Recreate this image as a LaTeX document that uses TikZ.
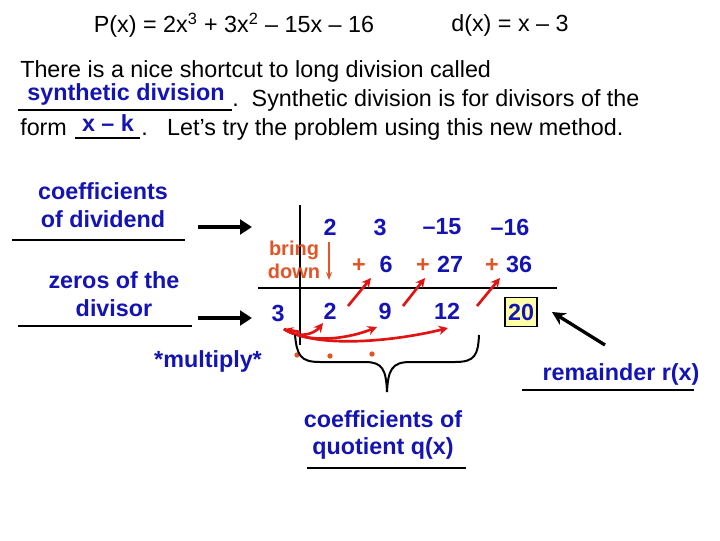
\documentclass[tikz,border=0pt]{standalone}
\usepackage{fontspec}
\setmainfont{Liberation Sans}
\usetikzlibrary{arrows.meta}
\definecolor{dblue}{RGB}{20,20,180}
\definecolor{oran}{RGB}{225,85,40}
\definecolor{rred}{RGB}{225,20,20}
\definecolor{yel}{RGB}{255,255,170}
\begin{document}
\begin{tikzpicture}[x=0.75pt,y=-0.75pt,
  txt/.style={font=\fontsize{17.5}{20}\selectfont,inner sep=0pt},
  lab/.style={font=\bfseries\fontsize{17.5}{20.5}\selectfont,text=dblue,inner sep=0pt,align=center},
  num/.style={font=\bfseries\fontsize{17.5}{20}\selectfont,text=dblue,inner sep=0pt},
  plus/.style={font=\bfseries\fontsize{17.5}{20}\selectfont,text=oran,inner sep=0pt},
  uline/.style={line width=1pt},
  bigarr/.style={line width=3pt,-{Triangle[length=9pt,width=11pt]}},
  redarr/.style={rred,line width=2pt,-{Stealth[length=7pt,width=7pt]}},
  dot/.style={circle,fill=oran,inner sep=0pt,minimum size=4pt}]
\useasboundingbox (0,0) rectangle (720,540);
\node[txt] (p) at (234,25) {P(x) = 2x\textsuperscript{3} + 3x\textsuperscript{2} – 15x – 16};
\node[txt] (d) at (510,25) {d(x) = x – 3};
\node[txt,anchor=base west] (l1) at (20,77) {There is a nice shortcut to long division called};
\node[txt,anchor=base west] (l2) at (232,106) {.\ \ Synthetic division is for divisors of the};
\node[txt,anchor=base west] (l3) at (20,135) {form};
\node[txt,anchor=base west] (l3b) at (141,135) {.\ \ \ Let’s try the problem using this new method.};
\node[lab,anchor=base] (sd) at (126,100) {synthetic division};
\node[lab,anchor=base] (xk) at (108,131) {x – k};
\draw[uline] (18,110) -- (232,110);
\draw[uline] (75,138) -- (140,138);

\node[lab] (cd) at (103,205) {coefficients\\of dividend};
\draw[uline] (12,240) -- (185,240);
\node[lab] (zd) at (114,294) {zeros of the\\divisor};
\draw[uline] (18,326) -- (192,326);
\coordinate (a1) at (198,227); \coordinate (a2) at (198,318);
\coordinate (a1e) at (252,227); \coordinate (a2e) at (252,318);
\draw[bigarr] (a1) -- (a1e);
\draw[bigarr] (a2) -- (a2e);
\node[num] (m) at (208,361) {*multiply*};

\draw[line width=1.5pt] (300,205) -- (300,345);
\draw[line width=1.5pt] (258,288) -- (557,288);

\node[num] (c1) at (330,227) {2};
\node[num] (c2) at (380,227) {3};
\node[num] (c3) at (442,227) {–15};
\node[num] (c4) at (510,227) {–16};

\node[font=\bfseries\fontsize{15}{17.5}\selectfont,text=oran,align=center,inner sep=0pt] (bd) at (294,260) {bring\\down};
\coordinate (bdt) at (329,280);
\draw[oran,line width=1.5pt,-{Stealth[length=6pt]}] (329,242) -- (bdt);

\node[plus] (p1) at (359,266) {+}; \node[num] (s1) at (386,264) {6};
\node[plus] (p2) at (423,266) {+}; \node[num] (s2) at (450,264) {27};
\node[plus] (p3) at (492,266) {+}; \node[num] (s3) at (519,264) {36};

\node[num] (k) at (278,313) {3};
\node[num] (b1) at (330,311) {2};
\node[num] (b2) at (385,311) {9};
\node[num] (b3) at (447,311) {12};
\node[num,draw=black,fill=yel,line width=1pt,minimum width=24pt,minimum height=22pt] (r) at (521,312) {20};

\coordinate (t1) at (371,278); \coordinate (t2) at (425,278); \coordinate (t3) at (500,278);
\draw[redarr] (348,306) -- (t1);
\draw[redarr] (403,306) -- (t2);
\draw[redarr] (477,306) -- (t3);

\coordinate (o) at (284,329);
\draw[redarr] (o) .. controls (300,340) and (315,333) .. (323,323);
\draw[redarr] (o) .. controls (310,345) and (350,338) .. (377,327);
\draw[redarr] (o) .. controls (320,350) and (400,340) .. (448,328);
\draw[rred,line width=2pt,-{Stealth[length=7pt]}] (300,332) -- (o);

\node[dot] (d1) at (297,355) {};
\node[dot] (d2) at (330,356) {};
\node[dot] (d3) at (372,354) {};

\draw[line width=1.5pt] (295,335) .. controls (297,355) and (300,362) .. (320,362) -- (365,362)
  .. controls (383,362) and (386,370) .. (387,392);
\draw[line width=1.5pt] (479,335) .. controls (478,355) and (475,362) .. (455,362) -- (410,362)
  .. controls (392,362) and (388,370) .. (387,392);

\node[lab] (q) at (383,435) {coefficients of\\quotient q(x)};
\draw[uline] (307,468) -- (466,468);
\node[lab] (rem) at (621,374) {remainder r(x)};
\draw[uline] (522,390) -- (694,390);
\coordinate (rt) at (552,312);
\draw[line width=2.5pt,-{Stealth[length=10pt,width=10pt]}] (605,345) -- (rt);
\end{tikzpicture}
\end{document}
